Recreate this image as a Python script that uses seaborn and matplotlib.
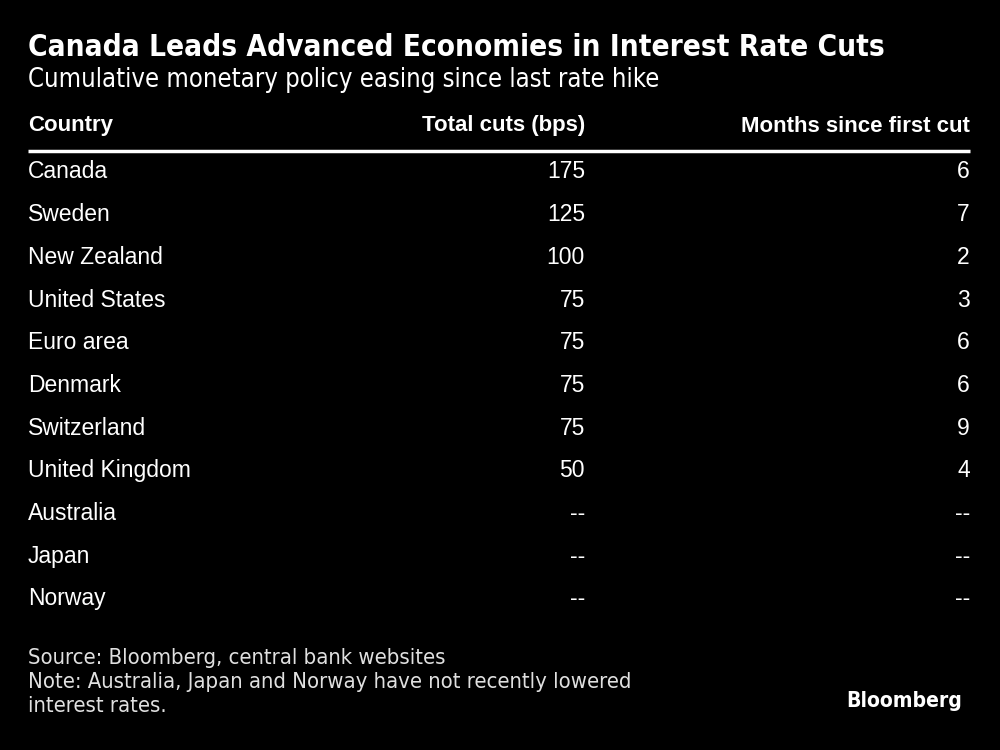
import matplotlib
matplotlib.use("Agg")
import matplotlib.pyplot as plt
import seaborn as sns
import numpy as np

countries = ["Canada", "Sweden", "New Zealand", "United States", "Euro area",
             "Denmark", "Switzerland", "United Kingdom", "Australia", "Japan", "Norway"]
total_cuts = ["175", "125", "100", "75", "75", "75", "75", "50", "--", "--", "--"]
months_since = ["6", "7", "2", "3", "6", "6", "9", "4", "--", "--", "--"]
headers = ["Country", "Total cuts (bps)", "Months since first cut"]

title = "Canada Leads Advanced Economies in Interest Rate Cuts"
subtitle = "Cumulative monetary policy easing since last rate hike"
source = "Source: Bloomberg, central bank websites"
note_lines = ["Note: Australia, Japan and Norway have not recently lowered",
              "interest rates."]

sns.set_theme(style="dark", rc={"figure.facecolor": "black", "axes.facecolor": "black",
                                "savefig.facecolor": "black"})
NARROW = ["DejaVu Sans Condensed", "DejaVu Sans"]
BODY = ["Liberation Sans", "DejaVu Sans"]
plt.rcParams["font.family"] = BODY

W, H = 1000, 750
fig = plt.figure(figsize=(10, 7.5), dpi=100)

def fy(py):
    return 1 - py / H

fig.text(28 / W, fy(48), title, color="white", fontsize=21.3, fontweight="bold",
         family=NARROW, fontstretch="condensed", va="center", ha="left")
fig.text(28 / W, fy(80), subtitle, color="white", fontsize=18.4,
         family=NARROW, fontstretch="condensed", va="center", ha="left")

# header
hdr_y = fy(126)
fig.text(28 / W, hdr_y, headers[0], color="white", fontsize=16, fontweight="bold",
         family=BODY, va="center", ha="left")
fig.text(585 / W, hdr_y, headers[1], color="white", fontsize=16, fontweight="bold",
         family=BODY, va="center", ha="right")
fig.text(970 / W, hdr_y, headers[2], color="white", fontsize=16, fontweight="bold",
         family=BODY, va="center", ha="right")

# body axes
n = len(countries)
top_px, row_h = 150.6, 42.7
bot_px = top_px + row_h * n
ax = fig.add_axes([0, 1 - bot_px / H, 1, (bot_px - top_px) / H])
ax.set_xlim(0, W)
ax.set_ylim(n - 0.5, -0.5)
ax.axis("off")
rows = np.arange(n)
for i, (c, t, m) in enumerate(zip(countries, total_cuts, months_since)):
    ax.text(28, rows[i], c, color="white", fontsize=16.5, va="center", ha="left")
    ax.text(585, rows[i], t, color="white", fontsize=16.5, va="center", ha="right")
    ax.text(970, rows[i], m, color="white", fontsize=16.5, va="center", ha="right")
ax.plot([28, 970], [-0.5, -0.5], color="white", lw=2.5, clip_on=False, solid_capstyle="butt")

fig.text(28 / W, fy(658), source, color="#e0e0e0", fontsize=15.8, family=NARROW,
         fontstretch="condensed", va="center", ha="left")
for k, line in enumerate(note_lines):
    fig.text(28 / W, fy(682 + 23.5 * k), line, color="#e0e0e0", fontsize=15.8,
             family=NARROW, fontstretch="condensed", va="center", ha="left")
fig.text(962 / W, fy(701), "Bloomberg", color="white", fontsize=15.1, fontweight="bold",
         family=NARROW, fontstretch="condensed", va="center", ha="right")

fig.savefig("out.png", dpi=100, facecolor="black")
